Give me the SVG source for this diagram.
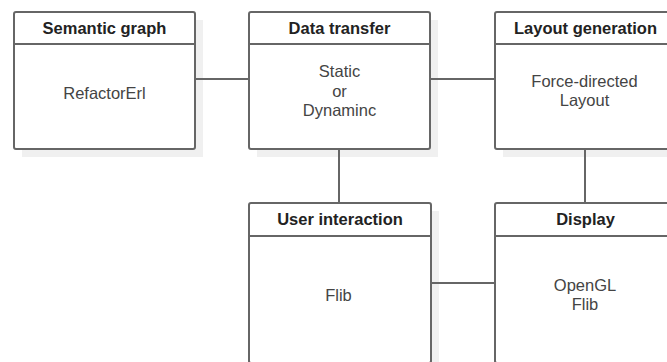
<svg xmlns="http://www.w3.org/2000/svg" width="667" height="362" viewBox="0 0 667 362">
<style>
.shadow{fill:#f0f0f0;stroke:none}
.box{fill:#ffffff;stroke:#666666;stroke-width:2}
.sep{stroke:#666666;stroke-width:2}
.conn{stroke:#666666;stroke-width:2;fill:none}
.hdr{font-family:"Liberation Sans",Arial,sans-serif;font-size:16.5px;font-weight:bold;fill:#222222;text-anchor:middle}
.body{font-family:"Liberation Sans",Arial,sans-serif;font-size:16.5px;fill:#444444;text-anchor:middle}
</style>
<rect width="667" height="362" fill="#ffffff"/>
<g id="shadows">
<rect class="shadow" x="22" y="20" width="181" height="137"/>
<rect class="shadow" x="257" y="20" width="181" height="137"/>
<rect class="shadow" x="503" y="20" width="181" height="137"/>
<rect class="shadow" x="257" y="211" width="182" height="160"/>
<rect class="shadow" x="503" y="211" width="181" height="160"/>
</g>
<g id="connectors">
<line class="conn" x1="195" y1="79" x2="249" y2="79"/>
<line class="conn" x1="430" y1="79" x2="495" y2="79"/>
<line class="conn" x1="339" y1="149" x2="339" y2="203"/>
<line class="conn" x1="585" y1="149" x2="585" y2="203"/>
<line class="conn" x1="431" y1="283" x2="495" y2="283"/>
</g>
<g id="semantic-graph">
<rect class="box" x="14" y="12" width="181" height="137" rx="2"/>
<line class="sep" x1="14" y1="44" x2="195" y2="44"/>
<text class="hdr" x="104.5" y="34">Semantic graph</text>
<text class="body" x="104.5" y="99">RefactorErl</text>
</g>
<g id="data-transfer">
<rect class="box" x="249" y="12" width="181" height="137" rx="2"/>
<line class="sep" x1="249" y1="44" x2="430" y2="44"/>
<text class="hdr" x="339.5" y="34">Data transfer</text>
<text class="body" x="339.5" y="77">Static</text>
<text class="body" x="339.5" y="96.5">or</text>
<text class="body" x="339.5" y="116">Dynaminc</text>
</g>
<g id="layout-generation">
<rect class="box" x="495" y="12" width="181" height="137" rx="2"/>
<line class="sep" x1="495" y1="44" x2="676" y2="44"/>
<text class="hdr" x="585.5" y="34">Layout generation</text>
<text class="body" x="584.5" y="87">Force-directed</text>
<text class="body" x="584.5" y="105.5">Layout</text>
</g>
<g id="user-interaction">
<rect class="box" x="249" y="203" width="182" height="160" rx="2"/>
<line class="sep" x1="249" y1="236" x2="431" y2="236"/>
<text class="hdr" x="340" y="225">User interaction</text>
<text class="body" x="338.5" y="301">Flib</text>
</g>
<g id="display">
<rect class="box" x="495" y="203" width="181" height="160" rx="2"/>
<line class="sep" x1="495" y1="236" x2="676" y2="236"/>
<text class="hdr" x="585.5" y="225">Display</text>
<text class="body" x="585" y="291">OpenGL</text>
<text class="body" x="585" y="310">Flib</text>
</g>
</svg>
